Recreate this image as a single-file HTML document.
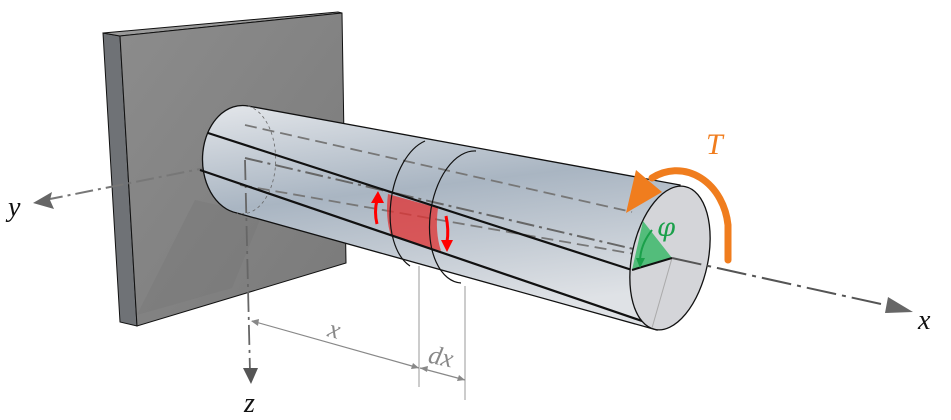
<!DOCTYPE html>
<html><head><meta charset="utf-8"><style>html,body{margin:0;padding:0;background:#fff;width:951px;height:420px;overflow:hidden}</style></head>
<body>
<svg width="951" height="420" viewBox="0 0 951 420" xmlns="http://www.w3.org/2000/svg">
<defs>
<linearGradient id="cyl" x1="0" y1="0" x2="0.25" y2="1">
<stop offset="0" stop-color="#e3e6ea"/><stop offset="0.45" stop-color="#a9b5c2"/><stop offset="1" stop-color="#dfe2e6"/>
</linearGradient>
<linearGradient id="wall" x1="0" y1="0" x2="1" y2="1">
<stop offset="0" stop-color="#8c8c8c"/><stop offset="1" stop-color="#7a7a7a"/>
</linearGradient>
</defs>
<!-- wall -->
<polygon points="103,33 120,36 137,326 120,322" fill="#6f7276" stroke="#111" stroke-width="1"/>
<polygon points="103,33 338,12 342,13 120,36" fill="#9a9a9a" stroke="#111" stroke-width="1"/>
<polygon points="120,36 342,13 346,263 137,326" fill="url(#wall)" stroke="#111" stroke-width="1"/>
<polygon points="195,200 137,315 232,288 262,215" fill="#777" opacity="0.45"/>
<!-- y axis -->
<line x1="245" y1="160" x2="50" y2="199" stroke="#777" stroke-width="2" stroke-dasharray="18,5,3,5"/>
<polygon points="33,203 52,192 50,200 54,209" fill="#666"/>
<text x="8" y="216" font-family="Liberation Serif,serif" font-style="italic" font-size="28" fill="#111">y</text>
<!-- cylinder body -->
<path d="M248,106 L680,185 L657,330 L237,213 A40,54 0 0 1 248,106 Z" fill="url(#cyl)" stroke="#111" stroke-width="1.3"/>
<path d="M248,106 A33,54 0 0 1 237,213" fill="none" stroke="#666" stroke-width="0.8" stroke-dasharray="3,3"/>
<!-- hidden dashed lines -->
<line x1="245" y1="125" x2="632" y2="212" stroke="#777" stroke-width="1.8" stroke-dasharray="12,6"/>
<line x1="240" y1="185" x2="640" y2="255" stroke="#777" stroke-width="1.8" stroke-dasharray="12,6"/>
<!-- center axis -->
<line x1="245" y1="158" x2="672" y2="258" stroke="#666" stroke-width="2" stroke-dasharray="18,5,3,5"/>
<!-- z axis -->
<line x1="245" y1="160" x2="250" y2="372" stroke="#666" stroke-width="1.8" stroke-dasharray="20,5,3,5"/>
<polygon points="243,368 258,368 251,384" fill="#555"/>
<text x="244" y="412" font-family="Liberation Serif,serif" font-style="italic" font-size="28" fill="#111">z</text>
<!-- red patch -->
<path d="M388,194 L438,208 A38,66 8 0 0 441,251 L391,236 A38,66 8 0 1 388,194 Z" fill="#e03030" opacity="0.75"/>
<!-- rings -->
<path d="M425,141 A38,66 8 0 0 410,266" fill="none" stroke="#111" stroke-width="1.2"/>
<path d="M476,151 A38,66 8 0 0 461,283" fill="none" stroke="#111" stroke-width="1.2"/>
<path d="M377,224 Q374,212 377,200" fill="none" stroke="#f00" stroke-width="3"/><polygon points="371,203 384,203 378,191" fill="#f00"/>
<path d="M446,216 Q449,230 447,242" fill="none" stroke="#f00" stroke-width="3"/><polygon points="441,240 453,240 447,252" fill="#f00"/>
<!-- black surface lines -->
<line x1="208" y1="133" x2="632" y2="270" stroke="#111" stroke-width="2.2"/>
<line x1="200" y1="170" x2="645" y2="322" stroke="#111" stroke-width="2.2"/>
<!-- right end face -->
<ellipse cx="670" cy="258" rx="38" ry="73" transform="rotate(12 670 258)" fill="#d4d5d9" stroke="#111" stroke-width="1.3"/>
<line x1="672" y1="258" x2="652" y2="328" stroke="#aaa" stroke-width="1"/>
<polygon points="672,258 643,221 632,270" fill="#3cb86a" opacity="0.85"/>
<line x1="632" y1="270" x2="672" y2="258" stroke="#111" stroke-width="2"/>
<path d="M652,230 Q640,245 640,262" fill="none" stroke="#1aa04a" stroke-width="2"/>
<polygon points="636,258 645,258 640,268" fill="#1aa04a"/>
<text x="657" y="236" font-family="DejaVu Serif,serif" font-style="italic" font-size="26" fill="#1aa04a">φ</text>
<!-- x axis -->
<line x1="672" y1="258" x2="890" y2="306" stroke="#555" stroke-width="2" stroke-dasharray="30,6,4,6"/>
<polygon points="913,312 888,297 885,313" fill="#666"/>
<text x="918" y="329" font-family="Liberation Serif,serif" font-style="italic" font-size="28" fill="#111">x</text>
<!-- torque -->
<path d="M728,260 L728,225 A52,62 0 0 0 652,178" fill="none" stroke="#f07d1e" stroke-width="7" stroke-linecap="round"/>
<polygon points="626,213 636,170 662,192" fill="#f07d1e"/>
<text x="706" y="154" font-family="Liberation Serif,serif" font-style="italic" font-size="30" fill="#f07d1e">T</text>
<!-- dimensions -->
<line x1="419" y1="266" x2="419" y2="387" stroke="#999" stroke-width="1"/>
<line x1="465" y1="286" x2="465" y2="400" stroke="#999" stroke-width="1"/>
<line x1="252" y1="321" x2="419" y2="368" stroke="#888" stroke-width="1.2"/>
<polygon points="251,321 259,319 258,326" fill="#888"/>
<polygon points="419,368 411,369 413,363" fill="#888"/>
<line x1="420" y1="368" x2="465" y2="380" stroke="#888" stroke-width="1.2"/>
<polygon points="420,368 428,366 427,372" fill="#888"/>
<polygon points="465,380 457,381 459,375" fill="#888"/>
<text x="328" y="338" font-family="Liberation Serif,serif" font-style="italic" font-size="26" fill="#888" transform="rotate(15 335 332)">x</text>
<text x="428" y="365" font-family="Liberation Serif,serif" font-style="italic" font-size="26" fill="#888" transform="rotate(12 440 360)">dx</text>
</svg>
</body></html>
